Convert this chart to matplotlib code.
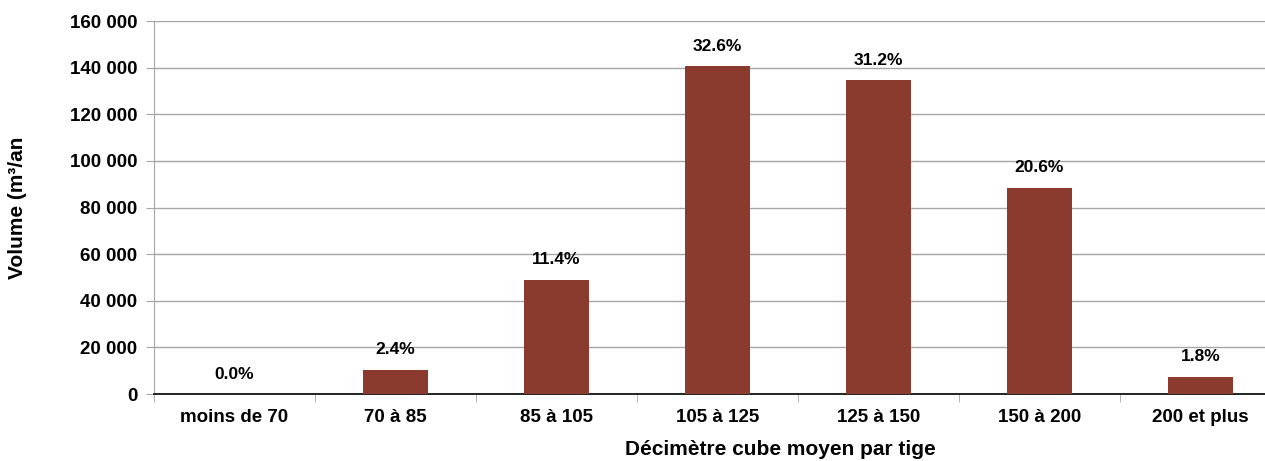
import matplotlib.pyplot as plt
from matplotlib.ticker import FuncFormatter, FixedLocator
import numpy as np

plt.rcParams['font.family'] = ['Liberation Sans', 'DejaVu Sans']
plt.rcParams['font.weight'] = 'bold'

# classes de volume par tige
categories = ["moins de 70", "70 à 85", "85 à 105", "105 à 125",
              "125 à 150", "150 à 200", "200 et plus"]
volumes = [0, 10500, 49000, 140500, 134500, 88400, 7400]
pct_labels = ["0.0%", "2.4%", "11.4%", "32.6%", "31.2%", "20.6%", "1.8%"]

BAR_COLOR = "#8B3A2E"
GRID_COLOR = "#A6A6A6"

fig = plt.figure(figsize=(12.65, 4.61), dpi=100)
# l'axe dépasse un peu à droite, comme dans l'original
ax = fig.add_axes([154 / 1265, (461 - 394) / 461, 1127 / 1265, 373 / 461])

x = np.arange(len(categories))
bars = ax.bar(x, volumes, width=0.4, color=BAR_COLOR, zorder=3)

for b, lab in zip(bars, pct_labels):
    ax.annotate(lab, (b.get_x() + b.get_width() / 2, b.get_height()),
                xytext=(0, 9), textcoords="offset points",
                ha="center", va="bottom", fontsize=12.5, fontweight="bold")

ax.set_xlim(-0.5, len(categories) - 0.5)
ax.set_ylim(0, 160000)
ax.set_yticks(np.arange(0, 160001, 20000))
ax.yaxis.set_major_formatter(FuncFormatter(lambda v, p: f"{int(v):,}".replace(",", " ")))
ax.yaxis.grid(True, color=GRID_COLOR, linewidth=1, zorder=0)

ax.set_xticks(x)
ax.set_xticklabels(categories)
ax.xaxis.set_minor_locator(FixedLocator(np.arange(-0.5, len(categories), 1)))
ax.tick_params(axis="x", which="major", length=0, pad=11, labelsize=13.5)
ax.tick_params(axis="x", which="minor", length=6, color=GRID_COLOR)
ax.tick_params(axis="y", length=6, color=GRID_COLOR, labelsize=13.5, pad=6)

for s in ["top", "right"]:
    ax.spines[s].set_visible(False)
ax.spines["left"].set_color(GRID_COLOR)
ax.spines["bottom"].set_color("black")
ax.spines["bottom"].set_linewidth(1.2)

fig.text(18 / 1265, 1 - 208 / 461, "Volume (m³/an", rotation=90,
         ha="center", va="center", fontsize=15, fontweight="bold")
fig.text(780 / 1265, 1 - 449 / 461, "Décimètre cube moyen par tige",
         ha="center", va="center", fontsize=15, fontweight="bold")

fig.savefig("out.png", dpi=100)
